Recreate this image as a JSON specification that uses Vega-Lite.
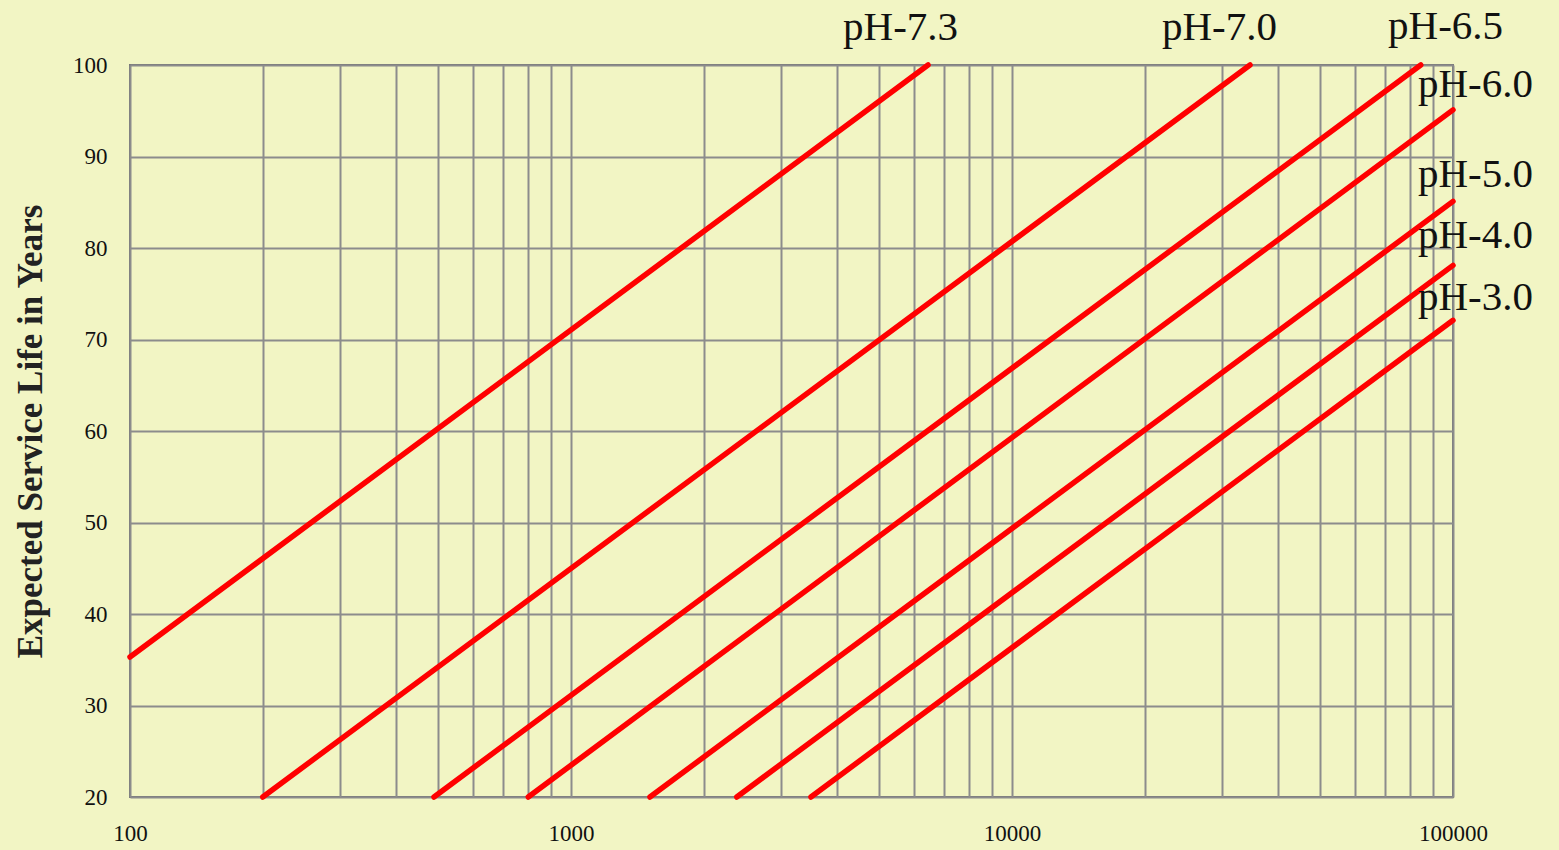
{
  "$schema": "https://vega.github.io/schema/vega-lite/v6.json",
  "width": 1323,
  "height": 732,
  "autosize": {"type": "none"},
  "padding": {"left": 130, "top": 65, "right": 106, "bottom": 53},
  "background": "#f2f5c4",
  "config": {
    "view": {"stroke": "#777777", "strokeWidth": 2, "fill": "#f2f5c4"},
    "font": "Liberation Serif"
  },
  "datasets": {
    "lines": [
      {"series": "pH-7.3", "flow": 100, "years": 35.3},
      {"series": "pH-7.3", "flow": 6450, "years": 100},
      {"series": "pH-7.0", "flow": 200, "years": 20},
      {"series": "pH-7.0", "flow": 34650, "years": 100},
      {"series": "pH-6.5", "flow": 489, "years": 20},
      {"series": "pH-6.5", "flow": 84500, "years": 100},
      {"series": "pH-6.0", "flow": 800, "years": 20},
      {"series": "pH-6.0", "flow": 100000, "years": 95.1},
      {"series": "pH-5.0", "flow": 1510, "years": 20},
      {"series": "pH-5.0", "flow": 100000, "years": 85.1},
      {"series": "pH-4.0", "flow": 2376, "years": 20},
      {"series": "pH-4.0", "flow": 100000, "years": 78.1},
      {"series": "pH-3.0", "flow": 3500, "years": 20},
      {"series": "pH-3.0", "flow": 100000, "years": 72.1}
    ],
    "labels": [
      {"label": "pH-7.3", "flow": 4140, "years": 102.75},
      {"label": "pH-7.0", "flow": 21880, "years": 102.75},
      {"label": "pH-6.5", "flow": 71230, "years": 102.8},
      {"label": "pH-6.0", "flow": 83300, "years": 96.5},
      {"label": "pH-5.0", "flow": 83300, "years": 86.7},
      {"label": "pH-4.0", "flow": 83300, "years": 80.0},
      {"label": "pH-3.0", "flow": 83300, "years": 73.2}
    ]
  },
  "layer": [
    {
      "data": {"name": "lines"},
      "mark": {"type": "line", "color": "#ff0000", "strokeWidth": 5.5, "strokeCap": "round"},
      "encoding": {
        "x": {
          "field": "flow", "type": "quantitative",
          "scale": {"type": "log", "domain": [100, 100000], "nice": false},
          "axis": {
            "title": null,
            "values": [100, 200, 300, 400, 500, 600, 700, 800, 900, 1000, 2000, 3000, 4000, 5000, 6000, 7000, 8000, 9000, 10000, 20000, 30000, 40000, 50000, 60000, 70000, 80000, 90000, 100000],
            "format": "d",
            "labelExpr": "indexof(['100','1000','10000','100000'], datum.label) >= 0 ? datum.label : ''",
            "ticks": false,
            "domain": false,
            "grid": true,
            "gridColor": "#8c8c8c",
            "gridWidth": 2,
            "gridOpacity": 1,
            "labelFont": "Liberation Serif",
            "labelFontSize": 23,
            "labelColor": "#111111",
            "labelPadding": 25,
            "labelFlush": false,
            "labelOverlap": false
          }
        },
        "y": {
          "field": "years", "type": "quantitative",
          "scale": {"domain": [20, 100], "nice": false, "zero": false},
          "axis": {
            "title": "Expected Service Life in Years",
            "values": [20, 30, 40, 50, 60, 70, 80, 90, 100],
            "ticks": false,
            "domain": false,
            "grid": true,
            "gridColor": "#8c8c8c",
            "gridWidth": 2,
            "gridOpacity": 1,
            "labelFont": "Liberation Serif",
            "labelFontSize": 23,
            "labelColor": "#111111",
            "labelPadding": 23,
            "titleFont": "Liberation Serif",
            "titleFontSize": 35,
            "titleFontWeight": "bold",
            "titleColor": "#222222",
            "titleX": -100,
            "titleY": 366,
            "titleAngle": -90,
            "titleAlign": "center",
            "titleBaseline": "middle"
          }
        },
        "detail": {"field": "series"}
      }
    },
    {
      "data": {"name": "labels"},
      "mark": {"type": "text", "align": "left", "baseline": "alphabetic", "fontSize": 41, "font": "Liberation Serif", "color": "#111111"},
      "encoding": {
        "x": {"field": "flow", "type": "quantitative"},
        "y": {"field": "years", "type": "quantitative"},
        "text": {"field": "label"}
      }
    }
  ]
}
